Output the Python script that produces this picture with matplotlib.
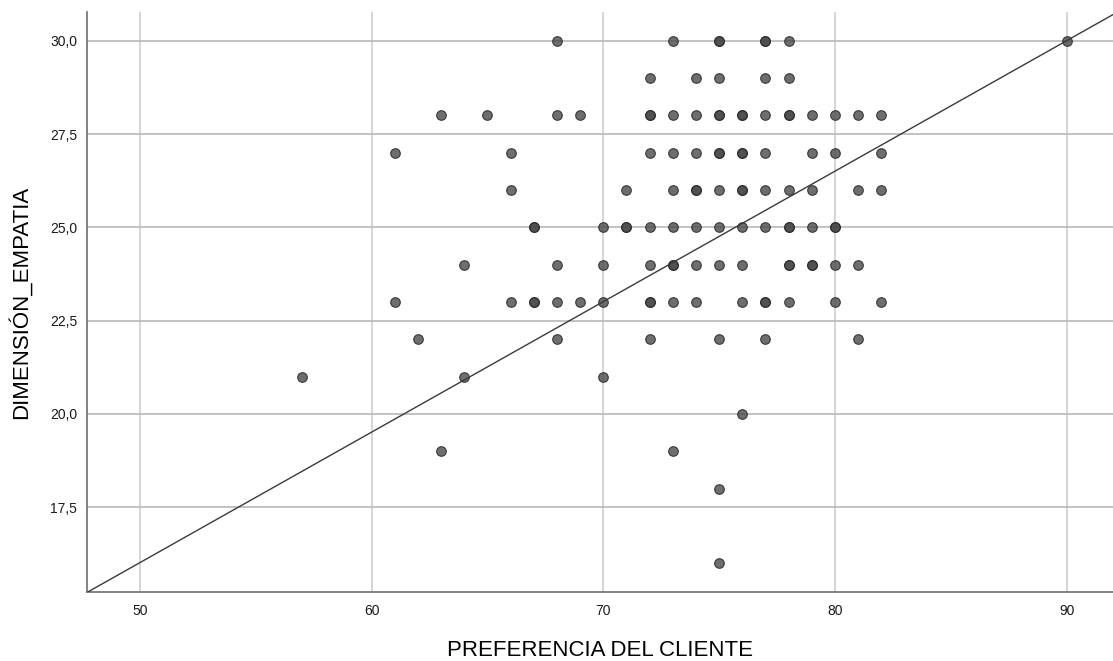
import numpy as np
import matplotlib
matplotlib.use("Agg")
import matplotlib.pyplot as plt

# scores, one list per DIMENSIÓN_EMPATIA level
# (repeated x values = overlapping cases, which draw darker)
rows = {
    30: [68, 73, 75, 75, 77, 77, 78, 90],
    29: [72, 74, 75, 77, 78],
    28: [63, 65, 68, 69, 72, 72, 73, 74, 75, 75, 76, 76, 77, 78, 78, 79, 80, 81, 82],
    27: [61, 66, 72, 73, 74, 75, 75, 76, 76, 77, 79, 80, 82],
    26: [66, 71, 73, 74, 74, 75, 76, 76, 77, 78, 79, 81, 82],
    25: [67, 67, 70, 71, 71, 72, 73, 74, 75, 76, 77, 78, 78, 79, 80, 80],
    24: [64, 68, 70, 72, 73, 73, 74, 75, 76, 78, 78, 79, 79, 80, 81],
    23: [61, 66, 67, 67, 68, 69, 70, 72, 72, 73, 74, 76, 77, 77, 78, 80, 82],
    22: [62, 68, 72, 75, 77, 81],
    21: [57, 64, 70],
    20: [76],
    19: [63, 73],
    18: [75],
    16: [75],
}
preferencia = [x for y, xs in rows.items() for x in xs]
empatia = [y for y, xs in rows.items() for x in xs]

# fit line as drawn in the output
fit_intercept = -1.47
fit_slope = 0.3497

x_ticks = [50, 60, 70, 80, 90]
y_ticks = [17.5, 20.0, 22.5, 25.0, 27.5, 30.0]
y_ticklabels = ["17,5", "20,0", "22,5", "25,0", "27,5", "30,0"]

plt.rcParams['font.family'] = ['Liberation Sans', 'DejaVu Sans']

fig = plt.figure(figsize=(11.13, 6.61), dpi=100)
ax = fig.add_axes([0.0784, 0.1039, 0.9216, 0.8784])

ax.scatter(preferencia, empatia, s=48, facecolor=(0.29, 0.29, 0.29, 0.8),
           edgecolor=(0.15, 0.15, 0.15, 0.85), linewidth=0.8, zorder=3)
ax.axline((0, fit_intercept), slope=fit_slope, color='#3a3a3a', linewidth=1.0, zorder=4)

ax.set_xlim(47.73, 92.0)
ax.set_ylim(15.22, 30.78)
ax.set_xticks(x_ticks)
ax.set_yticks(y_ticks)
ax.set_yticklabels(y_ticklabels)

for xv in x_ticks:
    ax.axvline(xv, color='#d2d2d2', linewidth=1.3, zorder=1)
for yv in y_ticks:
    ax.axhline(yv, color='#bdbdbd', linewidth=1.3, zorder=1)

for side in ['top', 'right']:
    ax.spines[side].set_visible(False)
for side in ['left', 'bottom']:
    ax.spines[side].set_color('#7a7a7a')
    ax.spines[side].set_linewidth(1.3)

ax.tick_params(axis='both', length=0, labelsize=10, colors='#1a1a1a')
ax.tick_params(axis='x', pad=8.5)
ax.tick_params(axis='y', pad=7.3)

ax.set_xlabel('PREFERENCIA DEL CLIENTE', fontsize=16, va='center', color='#000000')
ax.xaxis.set_label_coords(0.5, -0.101)
ax.set_ylabel('DIMENSIÓN_EMPATIA', fontsize=16, va='center', color='#000000')
ax.yaxis.set_label_coords(-0.0656, 0.5)

fig.savefig('out.png', dpi=100)
